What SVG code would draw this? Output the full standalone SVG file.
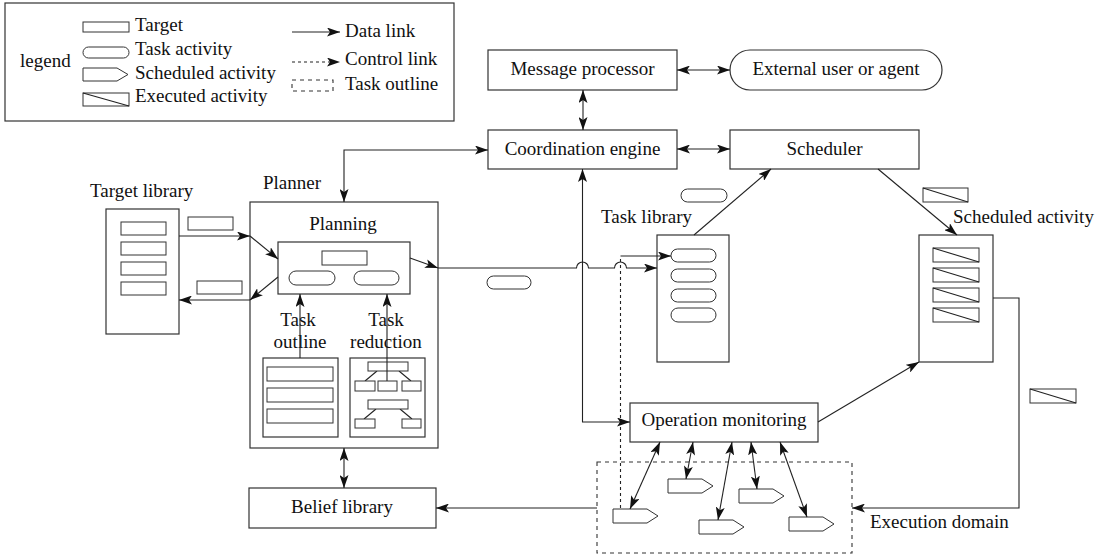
<svg xmlns="http://www.w3.org/2000/svg" width="1106" height="558" viewBox="0 0 1106 558">
<defs>
<marker id="ah" viewBox="0 0 13 9" refX="13" refY="4.5" markerWidth="13" markerHeight="9" markerUnits="userSpaceOnUse" orient="auto-start-reverse">
<path d="M0,0 L13,4.5 L0,9 L3,4.5 Z" fill="#111"/>
</marker>
<style>
text{font-family:"Liberation Serif","Times New Roman",serif;font-size:19px;fill:#111}
.mid{text-anchor:middle}
.box{fill:#fff;stroke:#333;stroke-width:1.2}
.sh{fill:#fff;stroke:#333;stroke-width:1}
.ln{fill:none;stroke:#222;stroke-width:1.1}
.da{fill:none;stroke:#222;stroke-width:1.1;stroke-dasharray:3,3}
.dbox{fill:none;stroke:#333;stroke-width:1.1;stroke-dasharray:4,4}
.e{marker-end:url(#ah)}
.b{marker-start:url(#ah);marker-end:url(#ah)}
</style>
</defs>
<rect width="1106" height="558" fill="#fff"/>

<g id="legend">
<rect x="5" y="3" width="449" height="118" class="box"/>
<text x="20" y="67">legend</text>
<rect x="83" y="22" width="46" height="10" class="sh"/>
<text x="135" y="31">Target</text>
<rect x="83" y="47" width="46" height="11" rx="5.5" class="sh"/>
<text x="135" y="55">Task activity</text>
<polygon points="83,68 117,68 128,74.5 117,81 83,81" class="sh"/>
<text x="135" y="79">Scheduled activity</text>
<rect x="83" y="93" width="46" height="13" class="sh"/>
<line x1="83" y1="93" x2="129" y2="106" class="ln"/>
<text x="135" y="102">Executed activity</text>
<line x1="292" y1="32" x2="340" y2="32" class="ln e"/>
<text x="345" y="37">Data link</text>
<line x1="292" y1="62" x2="340" y2="62" class="da e"/>
<text x="345" y="65">Control link</text>
<rect x="292" y="80" width="41" height="11" class="dbox" stroke-dasharray="3,3"/>
<text x="345" y="90">Task outline</text>
</g>

<g id="message-processor">
<rect x="488" y="50" width="189" height="40" class="box"/>
<text x="582.5" y="75" class="mid">Message processor</text>
</g>
<g id="external-user">
<rect x="730" y="50" width="212" height="40" rx="20" class="box"/>
<text x="836" y="75" class="mid">External user or agent</text>
</g>
<g id="coordination-engine">
<rect x="488" y="130" width="189" height="39" class="box"/>
<text x="582.5" y="155" class="mid">Coordination engine</text>
</g>
<g id="scheduler">
<rect x="730" y="130" width="189" height="39" class="box"/>
<text x="824.5" y="155" class="mid">Scheduler</text>
</g>

<g id="target-library">
<text x="90" y="197">Target library</text>
<rect x="106" y="209" width="73" height="125" class="box"/>
<rect x="121" y="222" width="45" height="13" class="sh"/>
<rect x="121" y="242" width="45" height="13" class="sh"/>
<rect x="121" y="262" width="45" height="13" class="sh"/>
<rect x="121" y="282" width="45" height="13" class="sh"/>
</g>
<g id="target-in">
<rect x="188" y="217" width="45" height="13" class="sh"/>
</g>
<g id="target-out">
<rect x="197" y="281" width="45" height="13" class="sh"/>
</g>

<g id="planner">
<text x="263" y="189">Planner</text>
<rect x="250" y="202" width="188" height="246" class="box"/>
<text x="343" y="230" class="mid">Planning</text>
<rect x="278" y="242" width="132" height="52" class="box"/>
<rect x="322" y="251" width="45" height="14" class="sh"/>
<rect x="289" y="271" width="46" height="14" rx="7" class="sh"/>
<rect x="354" y="271" width="45" height="14" rx="7" class="sh"/>
<text x="298" y="326" class="mid">Task</text>
<text x="300" y="348" class="mid">outline</text>
<text x="386" y="326" class="mid">Task</text>
<text x="386" y="348" class="mid">reduction</text>
<rect x="263" y="358" width="75" height="79" class="box"/>
<rect x="267" y="367" width="66" height="14" class="sh"/>
<rect x="267" y="388" width="66" height="14" class="sh"/>
<rect x="267" y="409" width="66" height="14" class="sh"/>
<rect x="350" y="358" width="75" height="79" class="box"/>
<line x1="377" y1="371" x2="365" y2="381" class="ln"/>
<line x1="399" y1="371" x2="411" y2="381" class="ln"/>
<line x1="376" y1="409" x2="364" y2="419" class="ln"/>
<line x1="400" y1="409" x2="412" y2="419" class="ln"/>
<rect x="368" y="362" width="40" height="9" class="sh"/>
<rect x="355" y="381" width="20" height="10" class="sh"/>
<rect x="378" y="381" width="19" height="10" class="sh"/>
<rect x="402" y="381" width="19" height="10" class="sh"/>
<rect x="368" y="400" width="40" height="9" class="sh"/>
<rect x="355" y="419" width="20" height="9" class="sh"/>
<rect x="402" y="419" width="19" height="9" class="sh"/>
</g>

<g id="belief-library">
<rect x="249" y="488" width="187" height="40" class="box"/>
<text x="342" y="513" class="mid">Belief library</text>
</g>

<g id="task-activity-transfer">
<rect x="487" y="276" width="44" height="13" rx="6.5" class="sh"/>
</g>

<g id="task-library">
<text x="601" y="223">Task library</text>
<rect x="657" y="235" width="72" height="127" class="box"/>
<rect x="671" y="249" width="45" height="13" rx="6.5" class="sh"/>
<rect x="671" y="269" width="45" height="13" rx="6.5" class="sh"/>
<rect x="671" y="289" width="45" height="13" rx="6.5" class="sh"/>
<rect x="671" y="308" width="45" height="14" rx="7" class="sh"/>
</g>
<g id="task-activity-top">
<rect x="681" y="189" width="46" height="13" rx="6.5" class="sh"/>
</g>

<g id="executed-top">
<rect x="923" y="188" width="45" height="14" class="sh"/>
<line x1="923" y1="188" x2="968" y2="202" class="ln"/>
</g>
<g id="scheduled-activity">
<text x="953" y="223">Scheduled activity</text>
<rect x="919" y="235" width="74" height="127" class="box"/>
<rect x="933" y="248" width="46" height="14" class="sh"/>
<line x1="933" y1="248" x2="979" y2="262" class="ln"/>
<rect x="933" y="268" width="46" height="14" class="sh"/>
<line x1="933" y1="268" x2="979" y2="282" class="ln"/>
<rect x="933" y="288" width="46" height="14" class="sh"/>
<line x1="933" y1="288" x2="979" y2="302" class="ln"/>
<rect x="933" y="308" width="46" height="14" class="sh"/>
<line x1="933" y1="308" x2="979" y2="322" class="ln"/>
</g>
<g id="executed-right">
<rect x="1030" y="389" width="46" height="14" class="sh"/>
<line x1="1030" y1="389" x2="1076" y2="403" class="ln"/>
</g>

<g id="operation-monitoring">
<rect x="630" y="403" width="188" height="39" class="box"/>
<text x="724" y="426" class="mid">Operation monitoring</text>
</g>

<g id="execution-domain">
<rect x="597" y="462" width="255" height="91" class="dbox"/>
<text x="870" y="528">Execution domain</text>
<polygon points="613,509 647,509 658,516 647,523 613,523" class="sh"/>
<polygon points="668,479 702,479 713,486 702,493 668,493" class="sh"/>
<polygon points="699,520 733,520 744,527 733,534 699,534" class="sh"/>
<polygon points="739,489 773,489 784,496 773,503 739,503" class="sh"/>
<polygon points="789,517 823,517 834,524 823,531 789,531" class="sh"/>
</g>

<g id="connectors">
<line x1="583" y1="90" x2="583" y2="130" class="ln b"/>
<line x1="677" y1="70" x2="730" y2="70" class="ln b"/>
<line x1="677" y1="149" x2="730" y2="149" class="ln b"/>
<path d="M488,150 H344 V202" class="ln b"/>
<line x1="344" y1="448" x2="344" y2="488" class="ln b"/>
<line x1="179" y1="236" x2="250" y2="236" class="ln e"/>
<line x1="250" y1="236" x2="278" y2="259" class="ln e"/>
<line x1="278" y1="277" x2="250" y2="300" class="ln e"/>
<line x1="250" y1="300" x2="179" y2="300" class="ln e"/>
<line x1="300" y1="358" x2="300" y2="294" class="ln e"/>
<line x1="387" y1="381" x2="387" y2="294" class="ln e"/>
<line x1="410" y1="258" x2="438" y2="268" class="ln e"/>
<path d="M438,268 H576.5 A6,6 0 0,1 588.5,268 H614.5 A6,6 0 0,1 626.5,268 H657" class="ln e"/>
<path d="M620.5,508 V256" class="da"/>
<path d="M620.5,256 H671" class="ln e"/>
<path d="M582.5,169 V422 H630" class="ln b"/>
<line x1="694" y1="235" x2="771" y2="169" class="ln e"/>
<line x1="878" y1="169" x2="957" y2="235" class="ln e"/>
<line x1="818" y1="422" x2="919" y2="362" class="ln e"/>
<path d="M993,298 H1019 V508 H852" class="ln e"/>
<line x1="597" y1="508" x2="436" y2="508" class="ln e"/>
<line x1="660" y1="442" x2="630" y2="509" class="ln b"/>
<line x1="693" y1="442" x2="686" y2="479" class="ln b"/>
<line x1="732" y1="442" x2="718" y2="520" class="ln b"/>
<line x1="751" y1="442" x2="757" y2="489" class="ln b"/>
<line x1="780" y1="442" x2="807" y2="517" class="ln b"/>
</g>
</svg>
